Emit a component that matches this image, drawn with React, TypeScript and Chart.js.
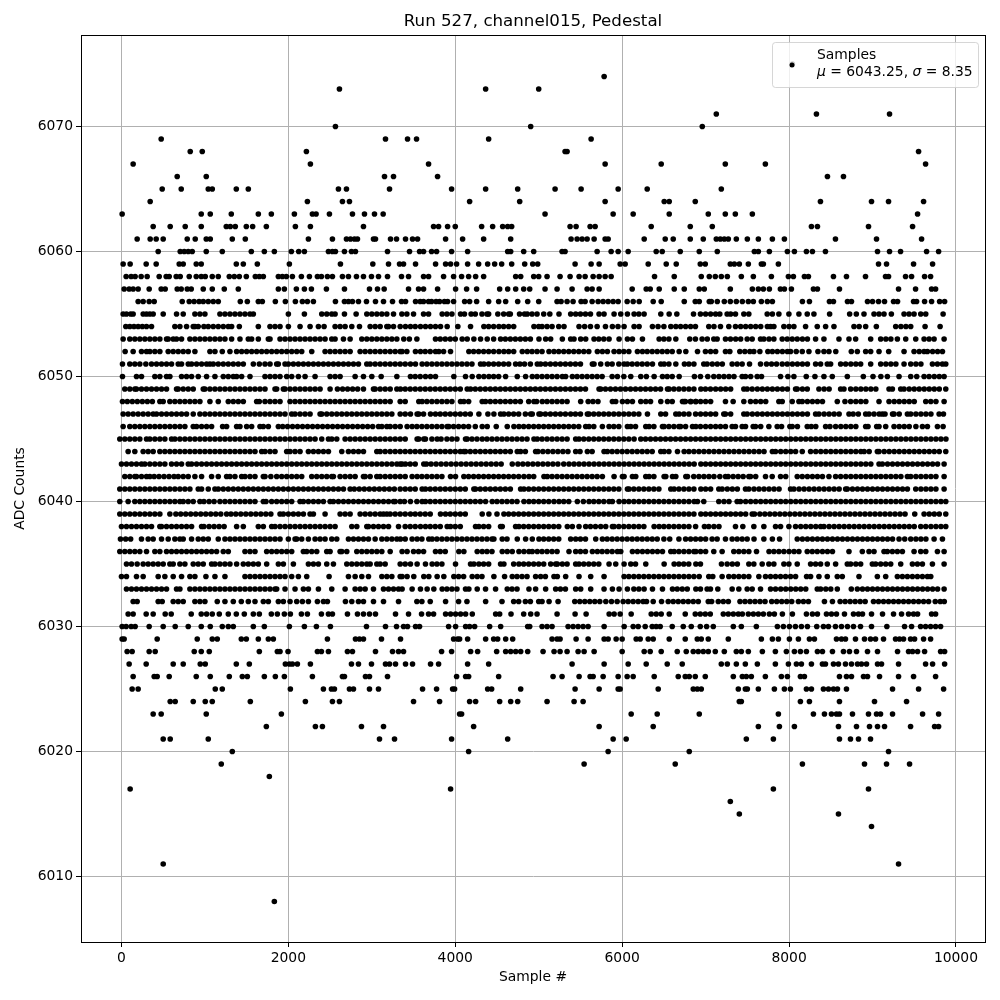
import React, { useEffect, useRef } from "react";
import { Chart, registerables } from "chart.js";

Chart.register(...registerables);

const chartTitle = "Run 527, channel015, Pedestal";
const xTitle = "Sample #";
const yTitle = "ADC Counts";
const legendName = "Samples";
const muText = "6043.25";
const sigmaText = "8.35";
const xTickValues = [0, 2000, 4000, 6000, 8000, 10000];
const yTickValues = [6010, 6020, 6030, 6040, 6050, 6060, 6070];
const xRange = [-485, 10348];
const yRange = [6004.76, 6077.32];

// Every sample index, per ADC level
const upperLevels: Record<number, number[]> = {
  6075: [8040],
  6074: [5784],
  6073: [2612, 4364, 5000],
  6071: [7128, 8328, 9204],
  6070: [2564, 4904, 6960],
  6069: [476, 3164, 3428, 3536, 4400, 5628],
  6068: [824, 968, 2216, 5316, 5340, 9552],
  6067: [140, 2264, 3680, 5796, 6468, 7236, 7716, 9636],
  6066: [668, 1016, 3152, 3260, 3788, 8460, 8652],
  6065: [488, 716, 1040, 1088, 1376, 1520, 2600, 2696, 3212, 3956, 4364, 4748, 5196, 5508, 5952, 6300, 7188],
  6064: [344, 2228, 2648, 2732, 4172, 4772, 5796, 6504, 6564, 6876, 8376, 8988, 9192, 9612],
  6063: [8, 956, 1064, 1316, 1640, 1796, 2072, 2288, 2332, 2492, 2768, 2912, 3032, 3136, 5076, 5892, 6132, 6564, 7032, 7236, 7356, 7560, 9540],
  6062: [380, 584, 764, 956, 1256, 1304, 1364, 1496, 1572, 1736, 2084, 2264, 2900, 3740, 3800, 3908, 4000, 4316, 4448, 4568, 4628, 4676, 5376, 5448, 5616, 5676, 6348, 6816, 7080, 8268, 8340, 8952, 9480],
  6061: [188, 344, 416, 500, 788, 884, 1016, 1064, 1328, 1484, 2240, 2528, 2696, 2744, 2792, 2828, 3020, 3044, 3224, 3296, 3404, 3488, 3548, 3884, 4088, 4340, 4664, 5388, 5460, 5520, 5580, 5664, 5796, 5832, 6264, 6516, 6612, 6816, 6972, 7128, 7176, 7224, 7272, 7368, 7500, 7632, 7800, 7944, 8556, 9048, 9588],
  6060: [440, 704, 752, 800, 848, 1016, 1208, 1556, 1712, 1832, 2036, 2124, 2192, 2480, 2528, 2564, 2672, 2756, 2804, 3188, 3452, 3572, 3620, 3716, 3776, 3956, 4148, 4628, 4664, 4820, 4940, 5280, 5316, 5700, 5868, 5952, 6072, 6408, 6480, 6696, 6924, 7140, 7584, 7632, 7764, 7980, 8064, 8208, 8280, 8436, 9060, 9204, 9336, 9648, 9792],
  6059: [20, 104, 296, 416, 692, 740, 896, 956, 1376, 1460, 1628, 2012, 2624, 3012, 3200, 3332, 3380, 3524, 3764, 3884, 3944, 4016, 4148, 4280, 4388, 4472, 4556, 4676, 4832, 4928, 4988, 5436, 5628, 5724, 5976, 6036, 6312, 6528, 6648, 6936, 6996, 7296, 7344, 7404, 7512, 7668, 7692, 7872, 9072, 9168, 9492, 9720],
  6058: [56, 116, 164, 236, 308, 452, 536, 572, 656, 704, 812, 896, 956, 1004, 1088, 1160, 1292, 1352, 1412, 1496, 1604, 1652, 1700, 1880, 1928, 1976, 2048, 2156, 2252, 2348, 2396, 2468, 2528, 2648, 2720, 2816, 2900, 2996, 3080, 3188, 3356, 3440, 3620, 3680, 3860, 3980, 4076, 4160, 4244, 4340, 4724, 4784, 4940, 5000, 5100, 5256, 5376, 5484, 5556, 5652, 5724, 5796, 5868, 6388, 6624, 6948, 7044, 7116, 7188, 7260, 7428, 7572, 7788, 7992, 8052, 8184, 8232, 8532, 8688, 8916, 9156, 9192, 9396, 9468, 9624, 9696],
  6057: [32, 92, 140, 200, 332, 476, 524, 668, 716, 788, 836, 980, 1088, 1232, 1400, 1880, 1952, 2096, 2192, 2276, 2456, 2672, 2972, 3068, 3148, 3440, 3560, 3620, 3788, 4004, 4136, 4256, 4532, 4628, 4724, 4820, 4892, 5076, 5220, 5400, 5580, 5640, 5724, 6120, 6288, 6336, 6444, 6624, 6744, 6924, 6984, 7296, 7560, 7632, 7692, 7764, 7896, 7944, 8028, 8292, 8340, 8604, 9312, 9516, 9708, 9756],
  6056: [200, 260, 332, 392, 728, 812, 870, 930, 980, 1040, 1100, 1160, 1424, 1508, 1640, 1688, 1844, 1964, 2084, 2168, 2228, 2300, 2564, 2672, 2720, 2768, 2840, 2936, 3044, 3140, 3248, 3356, 3404, 3524, 3580, 3620, 3680, 3716, 3770, 3812, 3870, 3908, 3980, 4112, 4172, 4256, 4400, 4520, 4604, 4748, 4868, 5000, 5220, 5268, 5340, 5412, 5508, 5556, 5640, 5712, 5772, 5832, 5892, 5952, 6060, 6132, 6204, 6372, 6468, 6744, 6876, 6924, 7044, 7068, 7140, 7224, 7296, 7368, 7440, 7512, 7572, 7668, 7740, 7800, 8160, 8244, 8484, 8532, 8700, 8748, 8940, 9000, 9072, 9144, 9252, 9300, 9492, 9528, 9624, 9708, 9804, 9864],
  6055: [20, 60, 110, 140, 260, 300, 340, 380, 500, 660, 740, 880, 940, 1000, 1180, 1240, 1300, 1360, 1420, 1480, 1540, 1580, 2000, 2192, 2400, 2460, 2520, 2560, 2672, 2812, 2940, 3000, 3060, 3120, 3180, 3260, 3360, 3420, 3500, 3620, 3680, 3843, 3900, 3960, 4063, 4110, 4190, 4240, 4320, 4380, 4400, 4510, 4580, 4640, 4660, 4770, 4830, 4863, 4920, 4980, 5060, 5133, 5243, 5383, 5443, 5500, 5560, 5620, 5723, 5783, 5903, 5983, 6063, 6143, 6200, 6263, 6463, 6563, 6655, 6855, 6938, 7000, 7060, 7120, 7170, 7258, 7300, 7358, 7458, 7518, 7738, 7800, 7878, 7998, 8118, 8218, 8298, 8486, 8726, 8806, 8898, 9018, 9078, 9138, 9226, 9378, 9438, 9498, 9578, 9638, 9846],
  6054: [52, 100, 150, 200, 250, 300, 360, 640, 700, 780, 860, 880, 920, 988, 1040, 1100, 1160, 1220, 1280, 1320, 1412, 1640, 1780, 1840, 1900, 2000, 2140, 2260, 2360, 2428, 2560, 2620, 2680, 2760, 2852, 2980, 3040, 3100, 3180, 3200, 3260, 3340, 3403, 3463, 3520, 3583, 3643, 3703, 3763, 3823, 3903, 4031, 4183, 4343, 4400, 4460, 4523, 4580, 4640, 4700, 4943, 5000, 5040, 5100, 5160, 5240, 5303, 5483, 5550, 5620, 5700, 5800, 5883, 5950, 6023, 6143, 6203, 6363, 6430, 6500, 6583, 6643, 6700, 6760, 6820, 6878, 7038, 7100, 7178, 7278, 7358, 7420, 7480, 7540, 7600, 7660, 7740, 7778, 7818, 7938, 8000, 8058, 8198, 8338, 8438, 8538, 8778, 8840, 8918, 9046, 9278, 9340, 9400, 9458, 9630, 9810],
  6053: [20, 100, 160, 220, 280, 340, 400, 460, 540, 560, 620, 660, 720, 820, 880, 940, 1000, 1060, 1120, 1180, 1240, 1320, 1420, 1520, 1560, 1640, 1760, 1780, 1900, 1960, 2020, 2080, 2140, 2200, 2260, 2320, 2380, 2440, 2520, 2560, 2660, 2740, 2880, 2940, 3000, 3060, 3120, 3180, 3240, 3300, 3383, 3450, 3540, 3763, 3820, 3880, 3940, 4000, 4083, 4143, 4223, 4303, 4383, 4460, 4543, 4600, 4660, 4720, 4780, 4840, 4900, 5003, 5083, 5143, 5283, 5383, 5423, 5503, 5563, 5663, 5720, 5780, 5843, 5963, 6063, 6123, 6243, 6443, 6500, 6560, 6643, 6810, 6878, 6958, 7020, 7098, 7138, 7238, 7298, 7360, 7420, 7498, 7558, 7658, 7698, 7760, 7818, 7918, 7978, 8038, 8098, 8160, 8220, 8318, 8418, 8598, 8718, 8798, 8978, 9098, 9160, 9220, 9298, 9398, 9518, 9618, 9678, 9738, 9858],
  6052: [44, 140, 240, 300, 340, 400, 460, 560, 620, 680, 740, 800, 880, 1060, 1120, 1208, 1300, 1380, 1440, 1500, 1560, 1620, 1680, 1740, 1800, 1860, 1920, 1980, 2040, 2100, 2160, 2280, 2440, 2500, 2560, 2620, 2680, 2740, 2860, 2920, 2980, 3040, 3100, 3160, 3220, 3280, 3340, 3363, 3420, 3523, 3583, 3640, 3700, 3763, 3803, 3860, 3943, 4163, 4220, 4280, 4340, 4400, 4460, 4523, 4583, 4640, 4700, 4803, 4863, 4920, 4980, 5040, 5123, 5183, 5240, 5300, 5360, 5420, 5480, 5540, 5600, 5703, 5763, 5823, 5903, 5963, 6020, 6080, 6183, 6243, 6300, 6360, 6420, 6480, 6540, 6600, 6683, 6763, 6903, 6998, 7060, 7120, 7238, 7290, 7410, 7470, 7530, 7578, 7650, 7746, 7800, 7860, 7920, 7980, 8018, 8086, 8158, 8238, 8346, 8418, 8478, 8560, 8746, 8818, 8918, 8978, 9078, 9194, 9378, 9498, 9560, 9618, 9658, 9720, 9780, 9838],
  6051: [12, 100, 160, 220, 292, 360, 420, 480, 540, 600, 680, 720, 800, 840, 900, 960, 1020, 1060, 1100, 1160, 1220, 1280, 1340, 1400, 1460, 1580, 1652, 1720, 1780, 1860, 1880, 1960, 2000, 2060, 2120, 2180, 2240, 2300, 2360, 2420, 2480, 2540, 2600, 2660, 2720, 2780, 2840, 2940, 2980, 3040, 3100, 3160, 3220, 3280, 3340, 3400, 3463, 3523, 3603, 3660, 3720, 3780, 3840, 3900, 3960, 4020, 4080, 4140, 4200, 4303, 4343, 4400, 4460, 4520, 4580, 4640, 4723, 4775, 4830, 4900, 4983, 5023, 5080, 5140, 5200, 5260, 5320, 5380, 5440, 5500, 5643, 5663, 5743, 5823, 5880, 5960, 6023, 6063, 6120, 6180, 6240, 6300, 6363, 6463, 6503, 6560, 6643, 6746, 6800, 6860, 6978, 7018, 7080, 7140, 7200, 7318, 7378, 7438, 7526, 7658, 7730, 7790, 7850, 7918, 7978, 8040, 8100, 8160, 8220, 8318, 8378, 8458, 8498, 8618, 8678, 8740, 8800, 8858, 8978, 9098, 9160, 9220, 9280, 9378, 9458, 9520, 9580, 9718, 9778, 9838, 9878],
  6050: [12, 180, 240, 400, 460, 540, 580, 720, 780, 840, 920, 1020, 1120, 1220, 1280, 1340, 1380, 1440, 1540, 1720, 1780, 1840, 1900, 1980, 2040, 2120, 2200, 2320, 2500, 2560, 2620, 2800, 2900, 3000, 3112, 3300, 3463, 3520, 3580, 3643, 3703, 3763, 3983, 4123, 4203, 4283, 4343, 4403, 4460, 4520, 4603, 4743, 4843, 4923, 4980, 5040, 5100, 5160, 5220, 5283, 5323, 5403, 5460, 5520, 5580, 5640, 5700, 5760, 5880, 5943, 6020, 6103, 6223, 6290, 6383, 6483, 6540, 6600, 6683, 6866, 6938, 7026, 7098, 7160, 7220, 7280, 7340, 7438, 7478, 7540, 7618, 7670, 7898, 7986, 8058, 8206, 8310, 8418, 8518, 8698, 8890, 9006, 9100, 9178, 9318, 9458, 9530, 9618, 9678, 9740, 9800, 9858],
  6049: [40, 100, 160, 180, 240, 300, 360, 420, 480, 540, 660, 680, 740, 800, 860, 980, 1000, 1060, 1120, 1180, 1240, 1300, 1360, 1420, 1480, 1540, 1600, 1660, 1720, 1840, 1860, 1940, 1960, 2020, 2080, 2140, 2200, 2260, 2320, 2380, 2500, 2588, 2650, 2710, 2770, 2830, 2900, 3020, 3040, 3100, 3160, 3220, 3300, 3343, 3400, 3460, 3520, 3580, 3640, 3700, 3760, 3820, 3880, 3940, 4000, 4060, 4143, 4183, 4240, 4300, 4360, 4420, 4480, 4540, 4600, 4660, 4720, 4780, 4840, 4900, 4960, 5020, 5080, 5140, 5200, 5260, 5320, 5380, 5440, 5500, 5560, 5723, 5743, 5800, 5860, 5920, 5980, 6040, 6100, 6160, 6220, 6280, 6340, 6400, 6460, 6543, 6563, 6620, 6680, 6740, 6800, 6860, 6943, 6998, 7058, 7120, 7180, 7240, 7300, 7458, 7498, 7558, 7620, 7680, 7740, 7800, 7860, 7920, 7980, 8078, 8098, 8160, 8218, 8358, 8420, 8480, 8618, 8658, 8738, 8800, 8860, 8920, 8980, 9040, 9198, 9238, 9338, 9378, 9440, 9500, 9560, 9620, 9680, 9740, 9800, 9878],
  6048: [12, 70, 130, 190, 250, 310, 370, 460, 500, 580, 640, 700, 760, 820, 880, 940, 1060, 1160, 1280, 1340, 1400, 1460, 1620, 1652, 1720, 1780, 1840, 1900, 2020, 2080, 2140, 2200, 2260, 2320, 2380, 2440, 2500, 2560, 2620, 2680, 2740, 2800, 2860, 2920, 2980, 3040, 3100, 3160, 3220, 3340, 3400, 3563, 3603, 3660, 3720, 3780, 3840, 3900, 3960, 4063, 4103, 4160, 4323, 4363, 4420, 4480, 4540, 4600, 4660, 4720, 4780, 4880, 4943, 4975, 5043, 5100, 5160, 5220, 5280, 5340, 5503, 5593, 5650, 5710, 5883, 5923, 6003, 6063, 6123, 6223, 6283, 6340, 6463, 6543, 6600, 6723, 6743, 6823, 6883, 6758, 6818, 6880, 6940, 7000, 7060, 7238, 7330, 7458, 7538, 7600, 7660, 7720, 7878, 7918, 8038, 8118, 8158, 8220, 8280, 8340, 8400, 8578, 8670, 8738, 8800, 8860, 8920, 9078, 9198, 9260, 9320, 9380, 9440, 9500, 9638, 9698, 9760, 9858],
  6047: [20, 80, 140, 200, 260, 320, 380, 420, 480, 540, 600, 660, 720, 780, 860, 940, 1000, 1060, 1120, 1180, 1240, 1300, 1360, 1420, 1480, 1540, 1600, 1660, 1720, 1780, 1840, 1900, 1960, 2040, 2080, 2140, 2200, 2260, 2380, 2400, 2460, 2520, 2580, 2640, 2700, 2760, 2820, 2880, 2940, 3000, 3060, 3120, 3180, 3240, 3340, 3400, 3463, 3543, 3563, 3620, 3703, 3763, 3820, 3880, 3940, 4000, 4060, 4120, 4180, 4283, 4391, 4463, 4543, 4583, 4640, 4700, 4760, 4840, 4903, 4923, 5003, 5023, 5080, 5140, 5200, 5260, 5320, 5383, 5440, 5500, 5583, 5603, 5660, 5720, 5780, 5840, 5900, 5960, 6020, 6080, 6140, 6200, 6303, 6463, 6520, 6643, 6683, 6740, 6800, 6880, 6940, 7000, 7060, 7120, 7218, 7238, 7300, 7458, 7498, 7560, 7620, 7680, 7740, 7800, 7860, 7920, 7980, 8040, 8100, 8160, 8220, 8318, 8358, 8420, 8480, 8540, 8600, 8718, 8768, 8830, 8918, 8958, 9018, 9080, 9118, 9150, 9240, 9258, 9320, 9418, 9458, 9520, 9580, 9640, 9700, 9798, 9850],
  6046: [20, 100, 160, 220, 280, 340, 400, 460, 520, 580, 640, 700, 760, 860, 900, 960, 1020, 1080, 1212, 1260, 1380, 1420, 1500, 1560, 1660, 1700, 1760, 1880, 1932, 1990, 2050, 2110, 2170, 2230, 2290, 2350, 2410, 2470, 2530, 2590, 2650, 2710, 2770, 2830, 2890, 2950, 3010, 3080, 3120, 3180, 3220, 3280, 3340, 3423, 3483, 3540, 3600, 3660, 3720, 3780, 3840, 3903, 3923, 3980, 4040, 4100, 4160, 4240, 4323, 4383, 4491, 4623, 4703, 4763, 4820, 4880, 4940, 5000, 5060, 5120, 5180, 5240, 5300, 5360, 5420, 5480, 5563, 5603, 5660, 5763, 5843, 5900, 5960, 6063, 6103, 6160, 6283, 6323, 6380, 6483, 6503, 6560, 6620, 6680, 6700, 6760, 6843, 6883, 6938, 7000, 7060, 7120, 7178, 7238, 7318, 7358, 7438, 7478, 7570, 7598, 7660, 7758, 7858, 7910, 8010, 8038, 8100, 8218, 8266, 8320, 8438, 8490, 8558, 8620, 8680, 8740, 8800, 8918, 8946, 9050, 9078, 9158, 9258, 9320, 9380, 9440, 9520, 9598, 9658, 9778, 9846],
  6045: [-20, 40, 100, 160, 220, 300, 340, 400, 460, 520, 600, 640, 700, 760, 820, 880, 940, 1000, 1060, 1120, 1180, 1240, 1300, 1360, 1420, 1480, 1540, 1600, 1660, 1720, 1780, 1840, 1900, 1960, 2020, 2080, 2140, 2200, 2260, 2320, 2400, 2480, 2520, 2580, 2680, 2740, 2800, 2860, 2920, 2980, 3040, 3100, 3160, 3220, 3280, 3340, 3400, 3543, 3563, 3623, 3643, 3720, 3783, 3830, 3900, 3960, 4020, 4123, 4143, 4200, 4260, 4323, 4380, 4440, 4500, 4560, 4620, 4680, 4740, 4800, 4860, 4943, 4983, 5040, 5100, 5160, 5220, 5280, 5340, 5443, 5483, 5540, 5600, 5660, 5720, 5780, 5840, 5900, 5960, 6020, 6080, 6143, 6223, 6280, 6340, 6400, 6460, 6520, 6580, 6640, 6700, 6760, 6820, 6880, 6940, 7000, 7060, 7120, 7180, 7240, 7300, 7360, 7420, 7480, 7540, 7600, 7660, 7720, 7780, 7840, 7900, 7960, 8020, 8080, 8140, 8200, 8260, 8320, 8380, 8440, 8500, 8560, 8620, 8680, 8740, 8800, 8860, 8920, 8980, 9040, 9100, 9160, 9220, 9280, 9340, 9400, 9460, 9520, 9580, 9640, 9700, 9760, 9820, 9880],
  6044: [80, 160, 260, 320, 380, 460, 520, 580, 640, 700, 760, 820, 880, 940, 1000, 1060, 1120, 1180, 1240, 1300, 1360, 1420, 1480, 1540, 1600, 1680, 1720, 1780, 1840, 1980, 2020, 2080, 2140, 2240, 2300, 2360, 2420, 2480, 2640, 2720, 2780, 2840, 2900, 3060, 3100, 3160, 3220, 3280, 3340, 3400, 3460, 3520, 3580, 3640, 3700, 3760, 3820, 3880, 3940, 4000, 4060, 4103, 4123, 4180, 4240, 4300, 4360, 4420, 4480, 4540, 4600, 4660, 4743, 4783, 4840, 4963, 4991, 5050, 5110, 5170, 5230, 5290, 5350, 5443, 5495, 5583, 5640, 5783, 5823, 5880, 5940, 6000, 6060, 6120, 6180, 6240, 6300, 6360, 6463, 6503, 6560, 6663, 6743, 6800, 6860, 6920, 6980, 7040, 7100, 7160, 7220, 7280, 7340, 7400, 7460, 7520, 7580, 7640, 7700, 7800, 7838, 7900, 7960, 8020, 8078, 8158, 8258, 8320, 8380, 8440, 8500, 8560, 8620, 8680, 8740, 8800, 8860, 8900, 8960, 9058, 9078, 9140, 9200, 9260, 9320, 9380, 9440, 9500, 9560, 9620, 9680, 9740, 9800, 9878],
  6043: [0, 60, 120, 180, 240, 280, 340, 400, 460, 520, 600, 660, 720, 800, 840, 900, 960, 1020, 1080, 1140, 1200, 1260, 1320, 1380, 1440, 1500, 1560, 1620, 1680, 1740, 1800, 1860, 1920, 1980, 2040, 2100, 2160, 2220, 2280, 2340, 2400, 2460, 2520, 2580, 2640, 2700, 2760, 2820, 2880, 2940, 3000, 3060, 3120, 3180, 3240, 3300, 3340, 3363, 3403, 3460, 3520, 3623, 3655, 3710, 3770, 3830, 3890, 3950, 4010, 4070, 4130, 4190, 4250, 4310, 4370, 4430, 4490, 4550, 4683, 4751, 4810, 4870, 4930, 4990, 5050, 5110, 5170, 5230, 5300, 5363, 5423, 5483, 5543, 5603, 5663, 5723, 5783, 5843, 5903, 5963, 6023, 6083, 6143, 6203, 6263, 6323, 6383, 6443, 6503, 6563, 6623, 6683, 6743, 6803, 6863, 6943, 7000, 7060, 7120, 7180, 7240, 7300, 7360, 7420, 7480, 7540, 7600, 7660, 7720, 7780, 7840, 7900, 7960, 8020, 8080, 8140, 8200, 8260, 8320, 8380, 8440, 8500, 8560, 8620, 8680, 8740, 8800, 8860, 8920, 8980, 9078, 9118, 9180, 9240, 9300, 9360, 9420, 9480, 9540, 9600, 9660, 9720, 9780, 9858],
  6042: [40, 100, 160, 180, 240, 300, 340, 392, 450, 510, 570, 630, 680, 740, 800, 880, 960, 1080, 1160, 1260, 1300, 1360, 1440, 1480, 1540, 1600, 1700, 1720, 1790, 1860, 1920, 1980, 2040, 2100, 2160, 2280, 2340, 2400, 2460, 2520, 2540, 2620, 2680, 2740, 2800, 2900, 2920, 2980, 3060, 3100, 3160, 3220, 3280, 3340, 3400, 3483, 3543, 3600, 3660, 3720, 3780, 3840, 3943, 4003, 4103, 4160, 4220, 4280, 4340, 4400, 4460, 4520, 4580, 4640, 4700, 4760, 4823, 4883, 4940, 5063, 5103, 5160, 5220, 5280, 5340, 5400, 5460, 5520, 5580, 5640, 5700, 5763, 5903, 6003, 6023, 6123, 6163, 6283, 6323, 6380, 6503, 6523, 6603, 6643, 6763, 6783, 6858, 6920, 6980, 7040, 7100, 7170, 7238, 7270, 7330, 7390, 7450, 7518, 7538, 7600, 7718, 7798, 7898, 7960, 8098, 8158, 8220, 8280, 8340, 8400, 8478, 8558, 8618, 8680, 8740, 8800, 8860, 8920, 8980, 9040, 9100, 9160, 9220, 9280, 9340, 9418, 9458, 9520, 9580, 9640, 9700, 9760, 9858],
  6041: [-20, 40, 100, 160, 220, 280, 340, 400, 460, 520, 580, 640, 700, 760, 820, 920, 960, 1040, 1120, 1160, 1220, 1280, 1340, 1400, 1460, 1520, 1580, 1640, 1700, 1760, 1820, 1880, 1940, 2000, 2060, 2120, 2180, 2240, 2300, 2360, 2420, 2480, 2540, 2600, 2660, 2740, 2790, 2850, 2910, 2970, 3030, 3090, 3150, 3210, 3270, 3340, 3400, 3460, 3520, 3603, 3643, 3700, 3760, 3820, 3880, 3940, 4000, 4060, 4120, 4223, 4243, 4300, 4360, 4420, 4480, 4540, 4600, 4660, 4783, 4823, 4880, 4940, 5000, 5060, 5120, 5180, 5240, 5300, 5360, 5420, 5480, 5540, 5600, 5660, 5720, 5780, 5840, 5900, 5960, 6063, 6083, 6140, 6200, 6260, 6320, 6380, 6440, 6583, 6623, 6680, 6740, 6800, 6860, 6943, 7000, 7060, 7158, 7198, 7260, 7320, 7380, 7478, 7518, 7580, 7640, 7700, 7760, 7820, 7880, 8018, 8058, 8120, 8180, 8240, 8300, 8360, 8420, 8480, 8540, 8600, 8678, 8698, 8760, 8820, 8880, 8940, 9000, 9060, 9120, 9180, 9240, 9300, 9360, 9418, 9518, 9580, 9640, 9700, 9760, 9858],
  6040: [-20, 80, 160, 220, 280, 340, 400, 460, 520, 580, 640, 700, 740, 800, 860, 940, 988, 1050, 1110, 1180, 1240, 1300, 1360, 1420, 1480, 1540, 1600, 1700, 1732, 1800, 1860, 1920, 1980, 2040, 2140, 2180, 2240, 2300, 2360, 2420, 2500, 2540, 2600, 2660, 2720, 2780, 2840, 2900, 2960, 3020, 3080, 3140, 3200, 3260, 3280, 3340, 3391, 3463, 3540, 3603, 3643, 3700, 3760, 3820, 3880, 3940, 4000, 4060, 4120, 4180, 4240, 4300, 4363, 4443, 4500, 4560, 4620, 4680, 4740, 4823, 4883, 4940, 5000, 5060, 5120, 5183, 5243, 5300, 5360, 5463, 5535, 5603, 5660, 5720, 5780, 5843, 5883, 5963, 6023, 6080, 6140, 6200, 6260, 6320, 6380, 6440, 6500, 6560, 6620, 6680, 6740, 6800, 6863, 6903, 6978, 7158, 7220, 7280, 7378, 7418, 7480, 7540, 7600, 7660, 7720, 7780, 7840, 7900, 7960, 8020, 8080, 8140, 8200, 8260, 8320, 8380, 8440, 8500, 8560, 8620, 8680, 8740, 8800, 8860, 8920, 8980, 9040, 9100, 9160, 9220, 9280, 9340, 9400, 9460, 9520, 9580, 9640, 9700, 9760, 9820, 9878],
  6039: [-20, 40, 100, 160, 220, 280, 340, 400, 460, 580, 652, 710, 770, 830, 890, 950, 1010, 1070, 1130, 1190, 1260, 1312, 1370, 1430, 1490, 1550, 1610, 1670, 1730, 1790, 1900, 1940, 2000, 2060, 2120, 2180, 2260, 2300, 2440, 2620, 2680, 2740, 2860, 2920, 2980, 3040, 3100, 3140, 3180, 3220, 3280, 3340, 3400, 3463, 3520, 3580, 3640, 3700, 3823, 3883, 3940, 4000, 4060, 4120, 4323, 4403, 4500, 4583, 4640, 4700, 4760, 4820, 4880, 4940, 5000, 5060, 5120, 5180, 5240, 5300, 5360, 5420, 5480, 5540, 5600, 5660, 5720, 5780, 5840, 5900, 5960, 6020, 6080, 6140, 6200, 6260, 6320, 6380, 6440, 6500, 6560, 6620, 6680, 6740, 6800, 6860, 6943, 7000, 7060, 7120, 7180, 7240, 7300, 7360, 7420, 7480, 7558, 7586, 7650, 7710, 7770, 7830, 7890, 7950, 8010, 8070, 8130, 8190, 8250, 8310, 8370, 8430, 8490, 8550, 8610, 8670, 8730, 8790, 8850, 8910, 8970, 9030, 9090, 9150, 9210, 9270, 9330, 9390, 9506, 9618, 9680, 9740, 9800, 9878],
  6038: [0, 60, 120, 180, 240, 300, 360, 460, 480, 540, 600, 660, 720, 780, 840, 960, 988, 1050, 1110, 1170, 1230, 1380, 1460, 1640, 1700, 1800, 1840, 1900, 1960, 2020, 2080, 2140, 2200, 2260, 2320, 2380, 2440, 2500, 2560, 2760, 2820, 2940, 2960, 3020, 3080, 3140, 3200, 3320, 3400, 3460, 3520, 3583, 3643, 3700, 3760, 3820, 3903, 3943, 4000, 4060, 4243, 4283, 4340, 4400, 4543, 4563, 4723, 4763, 4820, 4880, 4940, 5000, 5060, 5120, 5180, 5240, 5343, 5403, 5483, 5563, 5620, 5680, 5743, 5803, 5883, 5903, 5960, 6020, 6080, 6140, 6200, 6260, 6383, 6443, 6500, 6560, 6620, 6680, 6740, 6800, 6880, 6986, 7038, 7100, 7160, 7358, 7446, 7578, 7698, 7838, 7898, 7998, 8078, 8140, 8200, 8260, 8320, 8378, 8418, 8480, 8540, 8600, 8660, 8720, 8780, 8840, 8900, 8960, 9020, 9080, 9140, 9200, 9260, 9320, 9380, 9440, 9500, 9578, 9638, 9700, 9760, 9820, 9878],
  6037: [-12, 50, 110, 240, 320, 380, 480, 560, 640, 700, 740, 840, 920, 980, 1040, 1160, 1240, 1300, 1360, 1420, 1480, 1540, 1600, 1660, 1720, 1780, 1840, 1900, 2000, 2080, 2100, 2160, 2240, 2320, 2380, 2440, 2520, 2580, 2720, 2780, 2840, 2900, 2960, 3040, 3120, 3180, 3240, 3300, 3343, 3400, 3483, 3543, 3600, 3683, 3723, 3780, 3840, 3900, 3960, 4020, 4080, 4140, 4200, 4260, 4320, 4380, 4440, 4463, 4563, 4620, 4743, 4843, 4923, 5003, 5060, 5120, 5180, 5240, 5383, 5443, 5500, 5560, 5683, 5763, 5820, 5880, 5940, 6000, 6060, 6120, 6180, 6240, 6300, 6360, 6420, 6500, 6570, 6680, 6760, 6820, 6880, 6940, 7000, 7078, 7138, 7238, 7318, 7378, 7438, 7498, 7580, 7698, 7800, 7886, 8098, 8160, 8220, 8280, 8340, 8400, 8460, 8520, 8580, 8640, 8700, 8760, 8820, 8880, 8940, 9000, 9060, 9120, 9180, 9240, 9318, 9386, 9458, 9520, 9580, 9640, 9738, 9838],
};

const lowerLevels: Record<number, number[]> = {
  6036: [-20, 40, 100, 160, 220, 300, 400, 460, 540, 600, 660, 720, 780, 840, 900, 960, 1020, 1080, 1140, 1220, 1280, 1480, 1540, 1600, 1740, 1800, 1860, 1920, 1980, 2040, 2180, 2220, 2280, 2340, 2460, 2500, 2620, 2640, 2700, 2820, 2880, 2940, 3000, 3060, 3120, 3220, 3363, 3423, 3500, 3560, 3620, 3763, 3820, 3880, 4043, 4103, 4263, 4323, 4380, 4440, 4563, 4623, 4683, 4763, 4823, 4883, 4923, 4983, 5040, 5100, 5160, 5220, 5363, 5443, 5500, 5560, 5643, 5703, 5760, 5820, 5880, 5943, 5983, 6123, 6183, 6243, 6303, 6363, 6423, 6483, 6583, 6623, 6680, 6740, 6800, 6860, 6883, 6940, 7000, 7098, 7198, 7338, 7458, 7398, 7518, 7610, 7760, 7818, 7878, 7938, 8000, 8060, 8118, 8218, 8278, 8338, 8400, 8460, 8520, 8718, 8878, 8958, 9018, 9138, 9178, 9238, 9298, 9358, 9498, 9578, 9638, 9778, 9858],
  6035: [60, 120, 188, 260, 320, 380, 440, 500, 580, 620, 700, 760, 860, 920, 980, 1080, 1120, 1180, 1240, 1300, 1380, 1460, 1520, 1580, 1640, 1740, 1880, 1940, 2060, 2240, 2300, 2360, 2460, 2540, 2700, 2760, 2820, 2880, 2940, 2980, 3060, 3100, 3160, 3340, 3400, 3463, 3543, 3643, 3723, 3780, 3840, 4003, 4183, 4223, 4283, 4340, 4400, 4543, 4583, 4700, 4763, 4820, 4880, 4940, 5000, 5060, 5143, 5203, 5223, 5283, 5340, 5443, 5483, 5540, 5600, 5660, 5720, 5843, 5923, 6023, 6103, 6160, 6283, 6503, 6623, 6680, 6738, 6798, 6883, 6938, 7190, 7258, 7320, 7380, 7518, 7578, 7678, 7758, 7818, 7938, 7998, 8098, 8258, 8318, 8378, 8458, 8558, 8698, 8738, 8800, 8858, 8998, 9038, 9098, 9158, 9218, 9338, 9478, 9538, 9598, 9718, 9858],
  6034: [0, 60, 180, 260, 440, 520, 620, 720, 820, 880, 1012, 1120, 1240, 1480, 1540, 1600, 1660, 1720, 1780, 1840, 1900, 1960, 2040, 2120, 2220, 2488, 2720, 2800, 2880, 2960, 3120, 3180, 3240, 3340, 3363, 3423, 3503, 3623, 3683, 3783, 3863, 3983, 4040, 4100, 4203, 4263, 4320, 4463, 4591, 4683, 4740, 4800, 4860, 4963, 5023, 5080, 5183, 5223, 5323, 5483, 5623, 5783, 6023, 6080, 6140, 6200, 6260, 6320, 6380, 6440, 6500, 6560, 6620, 6680, 6740, 6800, 6860, 6923, 7038, 7086, 7198, 7278, 7338, 7398, 7458, 7518, 7638, 7718, 7778, 7838, 7898, 7958, 8018, 8078, 8210, 8258, 8358, 8458, 8578, 8638, 8838, 9058, 9158, 9298, 9358, 9418, 9478, 9538, 9598, 9658, 9698],
  6033: [60, 120, 180, 240, 300, 360, 420, 480, 540, 660, 700, 820, 880, 940, 1000, 1060, 1120, 1180, 1240, 1300, 1360, 1420, 1480, 1540, 1600, 1660, 1720, 1780, 1840, 1860, 1960, 2080, 2180, 2240, 2360, 2520, 2680, 2800, 2860, 2920, 3020, 3140, 3200, 3260, 3320, 3363, 3483, 3583, 3663, 3743, 3843, 3900, 3960, 4020, 4123, 4163, 4263, 4363, 4483, 4623, 4680, 4740, 4883, 4963, 5083, 5203, 5260, 5320, 5443, 5503, 5623, 5783, 5883, 5963, 6063, 6140, 6200, 6263, 6363, 6483, 6603, 6660, 6720, 6780, 6883, 6938, 7018, 7058, 7146, 7318, 7398, 7498, 7558, 7658, 7778, 7838, 7900, 7960, 8020, 8080, 8140, 8200, 8338, 8378, 8440, 8500, 8578, 8746, 8818, 8880, 8940, 9000, 9060, 9120, 9180, 9240, 9300, 9360, 9420, 9480, 9540, 9600, 9660, 9720, 9780, 9858],
  6032: [140, 188, 440, 488, 620, 680, 740, 880, 940, 1000, 1148, 1240, 1340, 1436, 1520, 1600, 1700, 1760, 1880, 1940, 2020, 2100, 2168, 2240, 2348, 2420, 2468, 2684, 2760, 2840, 2900, 3020, 3140, 3320, 3540, 3600, 3700, 3884, 4040, 4140, 4364, 4560, 4700, 4760, 4840, 4900, 5000, 5040, 5124, 5232, 5432, 5492, 5552, 5612, 5672, 5732, 5804, 5872, 5940, 6012, 6072, 6132, 6192, 6252, 6292, 6372, 6472, 6552, 6612, 6672, 6732, 6792, 6852, 6912, 7032, 7072, 7152, 7212, 7272, 7412, 7472, 7532, 7592, 7652, 7712, 7792, 7852, 7912, 7972, 8032, 8112, 8172, 8232, 8424, 8520, 8612, 8672, 8732, 8792, 8852, 8912, 9012, 9072, 9132, 9192, 9252, 9312, 9372, 9432, 9492, 9552, 9612, 9672, 9752, 9812, 9860],
  6031: [80, 140, 296, 380, 524, 596, 836, 956, 1020, 1088, 1172, 1280, 1376, 1472, 1580, 1652, 1796, 1868, 1952, 2024, 2156, 2228, 2396, 2480, 2528, 2708, 2828, 2900, 2972, 3044, 3284, 3440, 3596, 3680, 3740, 3884, 3944, 4004, 4064, 4124, 4204, 4484, 4532, 4668, 4820, 4904, 4980, 5220, 5436, 5568, 5844, 5904, 5976, 6108, 6348, 6408, 6468, 6564, 6756, 6876, 6936, 6996, 7056, 7212, 7272, 7332, 7392, 7440, 7512, 7572, 7632, 7692, 7764, 7824, 7920, 8040, 8208, 8280, 8340, 8448, 8508, 8568, 8664, 8772, 8832, 8880, 8988, 9120, 9252, 9348, 9432, 9492, 9540, 9708, 9756],
  6030: [8, 56, 116, 164, 332, 500, 644, 800, 956, 1064, 1208, 1280, 1340, 1580, 1712, 2012, 2192, 2336, 2504, 2936, 3164, 3296, 3380, 3428, 3524, 3572, 3920, 4004, 4124, 4172, 4232, 4412, 4544, 4868, 4892, 5040, 5100, 5160, 5352, 5412, 5472, 5532, 5592, 5784, 6024, 6132, 6192, 6276, 6360, 6408, 6456, 6600, 6732, 6828, 6936, 7012, 7092, 7332, 7428, 7608, 7860, 7932, 8004, 8076, 8148, 8220, 8332, 8412, 8472, 8556, 8628, 8700, 8772, 8856, 8988, 9172, 9384, 9468, 9576, 9636, 9696, 9756, 9816],
  6029: [8, 32, 428, 908, 1088, 1148, 1436, 1496, 1640, 1760, 1820, 2468, 2804, 2852, 2900, 3116, 3344, 3980, 4028, 4052, 4148, 4364, 4460, 4508, 4604, 4688, 5160, 5220, 5256, 5448, 5592, 5784, 5832, 5928, 6000, 6168, 6216, 6312, 6372, 6564, 6756, 6900, 6948, 7032, 7272, 7668, 7800, 7872, 8004, 8112, 8244, 8304, 8568, 8628, 8676, 8796, 8904, 8976, 9036, 9132, 9276, 9324, 9372, 9456, 9504, 9612, 9696],
  6028: [68, 128, 332, 404, 872, 956, 1052, 1652, 1868, 1900, 1996, 2348, 2396, 2480, 2708, 2768, 3044, 3248, 3320, 3380, 3836, 3956, 4184, 4268, 4496, 4604, 4664, 4724, 4784, 4868, 5052, 5184, 5256, 5340, 5472, 5544, 5664, 6000, 6264, 6336, 6468, 6660, 6768, 6852, 6912, 6972, 7032, 7116, 7224, 7368, 7428, 7512, 7680, 7836, 7968, 8064, 8136, 8208, 8340, 8400, 8520, 8652, 8724, 8808, 8940, 9060, 9300, 9432, 9480, 9540, 9624, 9816, 9864],
  6027: [92, 296, 620, 740, 944, 1004, 1376, 1532, 1964, 2012, 2048, 2108, 2264, 2756, 2840, 2996, 3164, 3212, 3284, 3404, 3488, 3704, 3800, 4148, 4400, 5400, 5784, 6072, 6288, 6540, 6720, 7188, 7260, 7368, 7476, 7620, 7836, 7992, 8088, 8148, 8268, 8400, 8436, 8532, 8592, 8676, 8748, 8820, 8868, 8928, 9060, 9108, 9312, 9636, 9720, 9864],
  6026: [140, 392, 428, 572, 896, 1064, 1292, 1448, 1508, 1712, 1844, 1952, 2288, 2648, 2672, 2924, 2972, 3188, 4016, 4124, 4160, 4520, 5172, 5280, 5484, 5616, 5652, 5772, 5952, 6060, 6132, 6384, 6672, 6756, 6804, 6876, 6996, 7332, 7440, 7488, 7548, 7716, 7908, 7980, 8136, 8184, 8604, 8688, 8748, 8892, 8940, 9084, 9312, 9492, 9756],
  6025: [128, 200, 1124, 1208, 2024, 2420, 2516, 2552, 2732, 2780, 2972, 3080, 3608, 3776, 3968, 3992, 4388, 4436, 4784, 5436, 5724, 5952, 5976, 6432, 6852, 6900, 6948, 7392, 7476, 7500, 7632, 7824, 7944, 8016, 8208, 8268, 8412, 8472, 8532, 8580, 8688, 9240, 9552, 9852],
  6024: [584, 644, 860, 1004, 1088, 1544, 2204, 2528, 2612, 3500, 3812, 4172, 4244, 4532, 4664, 4748, 5100, 5424, 5532, 7404, 7428, 8136, 8244, 8604, 9024, 9408],
  6023: [380, 476, 1016, 1916, 4052, 4076, 6108, 6420, 6924, 7872, 8292, 8424, 8508, 8568, 8604, 8760, 8952, 9048, 9096, 9240, 9600, 9792],
  6022: [1736, 2324, 2408, 2876, 3140, 4220, 5724, 6372, 7632, 7884, 8064, 8592, 8808, 8964, 9060, 9144, 9456, 9744, 9792],
  6021: [500, 584, 1040, 3092, 3272, 3956, 4628, 5892, 6048, 7488, 7812, 8604, 8736, 8832, 8976],
  6020: [1328, 4160, 5832, 6804, 9192],
  6019: [1196, 5544, 6636, 8160, 8904, 9168, 9444],
  6018: [1772],
  6017: [104, 3944, 7812, 8952],
  6016: [7296],
  6015: [7404, 8592],
  6014: [8988],
  6011: [500, 9312],
  6008: [1832],
};

function buildPoints() {
  const pts: { x: number; y: number }[] = [];
  for (const table of [upperLevels, lowerLevels]) {
    for (const level of Object.keys(table)) {
      for (const x of table[Number(level)]) {
        pts.push({ x, y: Number(level) });
      }
    }
  }
  return pts;
}

const FONT = "'DejaVu Sans'";
const SIZE = 13.89;

const framePlugin = {
  id: "frame",
  afterDraw(chart: any) {
    const { ctx, chartArea: a } = chart;
    ctx.save();
    ctx.strokeStyle = "#000";
    ctx.lineWidth = 1;
    ctx.strokeRect(a.left + 0.5, a.top + 0.5, a.right - a.left, a.bottom - a.top);

    // legend box, anchored to the plot's upper right corner
    const bw = 206, bh = 45;
    const bx = a.right - 7 - bw, by = a.top + 7;
    ctx.beginPath();
    ctx.roundRect(bx + 0.5, by + 0.5, bw, bh, 3);
    ctx.fillStyle = "rgba(255,255,255,0.8)";
    ctx.fill();
    ctx.strokeStyle = "rgba(204,204,204,0.8)";
    ctx.stroke();
    ctx.fillStyle = "#000";
    ctx.beginPath();
    ctx.arc(bx + 20, by + 23, 2.5, 0, Math.PI * 2);
    ctx.fill();
    ctx.textBaseline = "alphabetic";
    ctx.textAlign = "left";
    const normal = `${SIZE}px ${FONT}`;
    const italic = `italic ${SIZE}px ${FONT}`;
    const tx = bx + 45;
    ctx.font = normal;
    ctx.fillText(legendName, tx, by + 17);
    let cx = tx;
    const parts: [string, string][] = [
      ["\u03bc", italic],
      [` = ${muText}, `, normal],
      ["\u03c3", italic],
      [` = ${sigmaText}`, normal],
    ];
    for (const [t, f] of parts) {
      ctx.font = f;
      ctx.fillText(t, cx, by + 34);
      cx += ctx.measureText(t).width;
    }
    ctx.restore();
  },
};

export default function App() {
  const ref = useRef<HTMLCanvasElement>(null);
  useEffect(() => {
    document.body.style.margin = "0";
    const chart = new Chart(ref.current!, {
      type: "scatter",
      data: {
        datasets: [
          {
            label: legendName,
            data: buildPoints(),
            backgroundColor: "#000",
            borderWidth: 0,
            pointRadius: 2.8,
          },
        ],
      },
      options: {
        responsive: false,
        animation: false,
        layout: { padding: { left: 0, right: 15, top: 0, bottom: 0 } },
        plugins: {
          legend: { display: false },
          tooltip: { enabled: false },
          title: {
            display: true,
            text: chartTitle,
            fullSize: false,
            color: "#000",
            font: { family: FONT, size: 16.67, weight: "normal", lineHeight: 1.2 },
            padding: { top: 12, bottom: 3 },
          },
        },
        scales: {
          x: {
            type: "linear",
            min: xRange[0],
            max: xRange[1],
            afterFit(s: any) {
              s.height = 58;
            },
            afterBuildTicks(s: any) {
              s.ticks = xTickValues.map((value) => ({ value }));
            },
            ticks: {
              maxRotation: 0,
              autoSkip: false,
              color: "#000",
              font: { family: FONT, size: SIZE },
              padding: 3,
              callback: (v: any) => String(v),
            },
            grid: { color: "#b0b0b0", lineWidth: 1, tickColor: "#000", tickLength: 5 },
            border: { color: "#000", width: 1 },
            title: {
              display: true,
              text: xTitle,
              color: "#000",
              font: { family: FONT, size: SIZE },
              padding: { top: 0, bottom: 14 },
            },
          },
          y: {
            type: "linear",
            min: yRange[0],
            max: yRange[1],
            afterFit(s: any) {
              s.width = 81;
            },
            afterBuildTicks(s: any) {
              s.ticks = yTickValues.map((value) => ({ value }));
            },
            ticks: {
              autoSkip: false,
              color: "#000",
              font: { family: FONT, size: SIZE },
              padding: 3,
              callback: (v: any) => String(v),
            },
            grid: { color: "#b0b0b0", lineWidth: 1, tickColor: "#000", tickLength: 5 },
            border: { color: "#000", width: 1 },
            title: {
              display: true,
              text: yTitle,
              color: "#000",
              font: { family: FONT, size: SIZE },
              padding: { top: 12.5, bottom: 0 },
            },
          },
        },
      },
      plugins: [framePlugin],
    } as any);
    return () => chart.destroy();
  }, []);
  return <canvas ref={ref} width={1000} height={1000} style={{ display: "block" }} />;
}
